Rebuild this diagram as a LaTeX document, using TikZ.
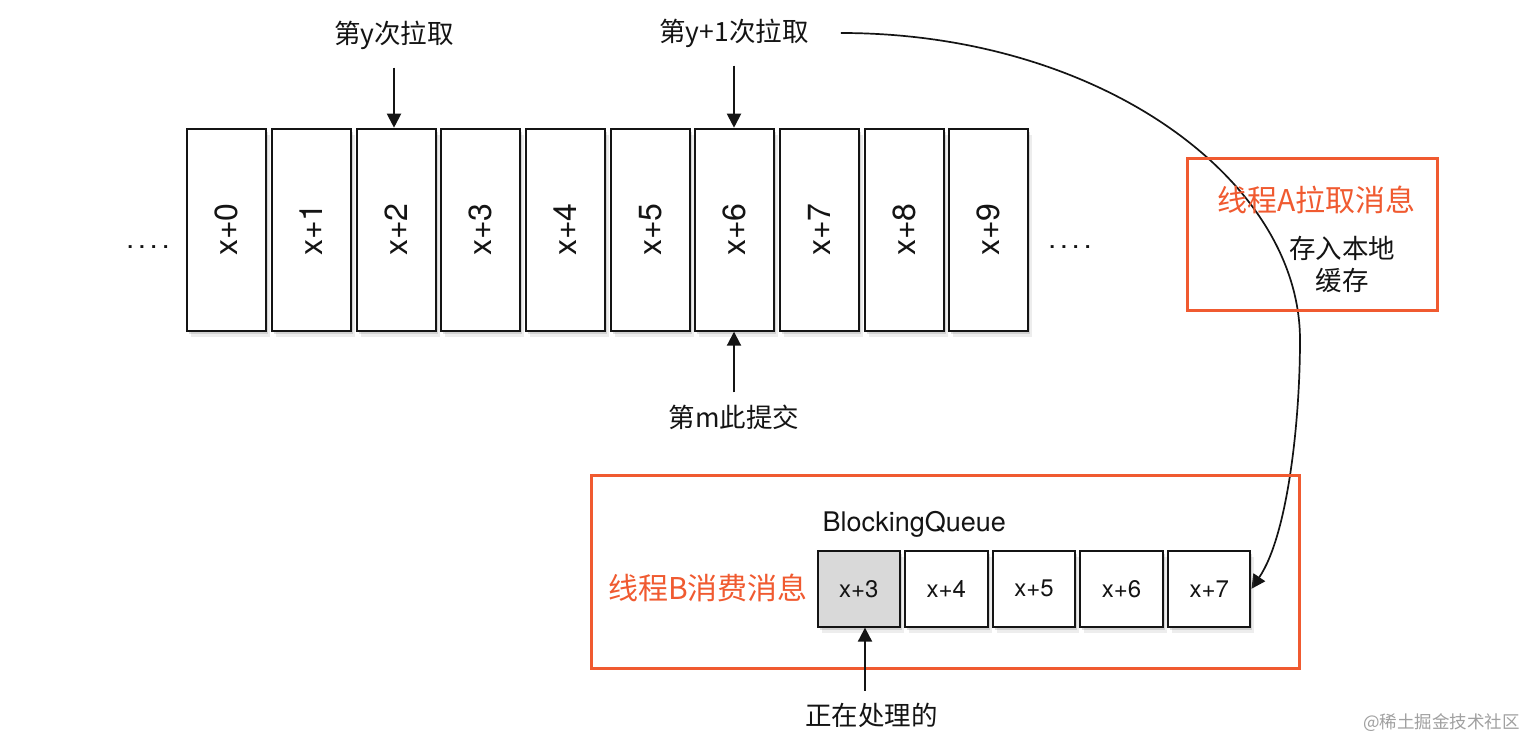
\documentclass[tikz,border=0pt]{standalone}
\usepackage{fontspec}
\setmainfont{TeX Gyre Heros}
\newfontfamily\cjk{Noto Sans CJK SC}
\usetikzlibrary{arrows.meta,shadows,calc}
\definecolor{redline}{RGB}{240,90,48}
\definecolor{ink}{RGB}{20,20,20}
\definecolor{wmgray}{RGB}{160,160,160}
\definecolor{cellgray}{RGB}{217,217,217}
\pgfdeclarelayer{back}
\pgfsetlayers{back,main}
\begin{document}
\begin{tikzpicture}[x=1pt,y=-1pt,
  cell/.style={draw=ink, line width=2pt, fill=white, inner sep=0pt,
    drop shadow={shadow xshift=2pt, shadow yshift=-3pt, opacity=0.25},
    drop shadow={shadow xshift=4pt, shadow yshift=-6pt, opacity=0.14}},
  topcell/.style={cell, minimum width=79pt, minimum height=202pt},
  qcell/.style={cell, minimum width=82.5pt, minimum height=75.7pt,
    font=\fontsize{24}{28}\selectfont, text=ink},
  vtext/.style={rotate=90, inner sep=0pt, font=\fontsize{32}{36}\selectfont, text=ink},
  arr/.style={draw=ink, line width=2pt, -{Triangle[length=14pt,width=14pt]}},
  curvearr/.style={draw=ink, line width=1.7pt, -{Triangle[length=14pt,width=14pt]}},
  lbl/.style={inner sep=0pt, font=\cjk\fontsize{26.5}{32}\selectfont, text=ink},
  redlbl/.style={inner sep=0pt, font=\cjk\fontsize{30}{36}\selectfont, text=redline},
  redbox/.style={draw=redline, line width=3pt, inner sep=0pt},
  dotstext/.style={inner sep=0pt, font=\fontsize{28}{30}\selectfont, text=ink}
]
\useasboundingbox (0,0) rectangle (1532,745);

% top row of cells
\foreach \i in {0,...,9}{
  \node[topcell] (b\i) at ({226.8+84.67*\i},229.7) {};
  \node[vtext] (t\i) at (b\i.center) {x+\i};
}
\node[dotstext, anchor=base] (dl) at (148,248) {.\hspace{4pt}.\hspace{4pt}.\hspace{4pt}.};
\node[dotstext, anchor=base] (dr) at (1070,248) {.\hspace{4pt}.\hspace{4pt}.\hspace{4pt}.};

% labels above / below
\node[lbl] (ly) at (394,35) {第y次拉取};
\node[lbl] (ly1) at (734,33) {第y+1次拉取};
\node[lbl] (lm) at (734,417) {第m此提交};

\coordinate (ya) at ([yshift=-18pt]ly.south);
\draw[arr] (ya) -- (ya |- b2.north);
\coordinate (yb) at ([yshift=-18pt]ly1.south);
\draw[arr] (yb) -- (yb |- b6.north);
\coordinate (ma) at ([yshift=12pt]lm.north);
\draw[arr] (ma) -- (ma |- b6.south);

% thread A box content
\node[redbox, minimum width=250pt, minimum height=152pt] (ra) at (1312,234) {};
\node[redlbl] (la) at (1316.5,200) {线程A拉取消息};
\node[lbl, align=center] (lc) at (1342,264) {存入本地\\缓存};

% thread B box content
\node[redbox, minimum width=708pt, minimum height=193pt] (rb) at (945,571.5) {};
\node[redlbl] (lb) at (708,588) {线程B消费消息};
\node[inner sep=0pt, anchor=base west, font=\fontsize{27}{30}\selectfont, text=ink] (bq) at (822.5,531.5) {BlockingQueue};

\node[qcell, fill=cellgray] (q3) at (858.8,588.8) {x+3};
\foreach \i/\v in {1/4,2/5,3/6,4/7}{
  \node[qcell] (q\v) at ({858.8+87.6*\i},588.8) {x+\v};
}

\node[lbl] (lp) at (871.5,715) {正在处理的};
\coordinate (pa) at ([xshift=-6.5pt,yshift=12pt]lp.north);
\draw[arr] (pa) -- (pa |- q3.south);

% watermark
\node[anchor=east, inner sep=0pt, font=\cjk\fontsize{17.5}{20}\selectfont, text=wmgray] (wm) at (1520,723) {@稀土掘金技术社区};

\begin{pgfonlayer}{back}
  \fill[white] (0,0) rectangle (1532,745);
  \draw[curvearr] ([xshift=32pt]ly1.east) .. controls (1100,33) and (1300,180) .. (1300,340)
     .. controls (1300,420) and (1288,535) .. (q7.east);
\end{pgfonlayer}
\end{tikzpicture}
\end{document}
